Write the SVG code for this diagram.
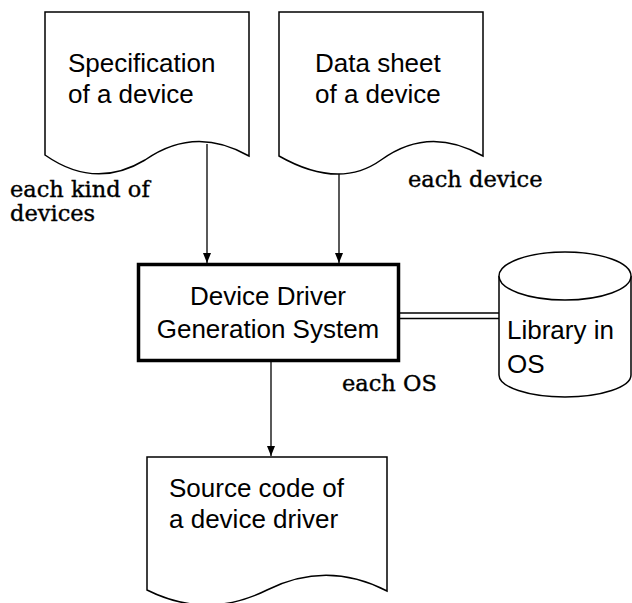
<svg xmlns="http://www.w3.org/2000/svg" width="632" height="603" viewBox="0 0 632 603">
<style>
.shape{fill:#fff;stroke:#000;stroke-width:1.5}
.sans{font-family:"Liberation Sans",Arial,sans-serif;font-size:26px;fill:#000}
.serif{font-family:"DejaVu Serif","Liberation Serif",serif;font-size:22.5px;fill:#000;stroke:#000;stroke-width:0.4}
.line{stroke:#000;stroke-width:1.3;fill:none}
</style>
<defs>
<marker id="ah" viewBox="0 0 10 10" refX="10" refY="5" markerWidth="10" markerHeight="10" markerUnits="userSpaceOnUse" orient="auto">
<path d="M0,1 L10,5 L0,9 Z" fill="#000"/>
</marker>
</defs>
<rect width="632" height="603" fill="#fff"/>
<g id="connectors">
<line class="line" x1="207" y1="144" x2="207" y2="263" marker-end="url(#ah)"/>
<line class="line" x1="339" y1="173" x2="339" y2="263" marker-end="url(#ah)"/>
<line class="line" x1="271" y1="362" x2="271" y2="456" marker-end="url(#ah)"/>
<line class="line" x1="400" y1="313" x2="499" y2="313"/>
<line class="line" x1="400" y1="318.5" x2="499" y2="318.5"/>
</g>
<g id="spec">
<path class="shape" d="M45,155 L45,12 L249,12 L249,156 Q195,125 145,160 Q95,190 45,155 Z"/>
<text class="sans" x="68" y="72">Specification</text>
<text class="sans" x="68" y="103">of a device</text>
</g>
<g id="datasheet">
<path class="shape" d="M279,156 L279,12 L483,12 L483,156 Q429,125 381,160 Q339,190 279,156 Z"/>
<text class="sans" x="315" y="72">Data sheet</text>
<text class="sans" x="315" y="103">of a device</text>
</g>
<g id="generator">
<rect x="138.5" y="264.5" width="260" height="96" fill="#fff" stroke="#000" stroke-width="3.5"/>
<text class="sans" x="268" y="305" text-anchor="middle">Device Driver</text>
<text class="sans" x="268" y="338" text-anchor="middle">Generation System</text>
</g>
<g id="library">
<path class="shape" d="M499,276 L499,375 A66,22 0 0 0 631,375 L631,276"/>
<ellipse class="shape" cx="565" cy="276" rx="66" ry="24"/>
<text class="sans" x="507" y="339">Library in</text>
<text class="sans" x="507" y="373">OS</text>
</g>
<g id="source">
<path class="shape" d="M147,590 L147,457 L387,457 L387,591 Q327,560 267,590 Q207,620 147,590 Z"/>
<text class="sans" x="169" y="497">Source code of</text>
<text class="sans" x="169" y="528">a device driver</text>
</g>
<g id="labels">
<text class="serif" x="10" y="197">each kind of</text>
<text class="serif" x="10" y="221">devices</text>
<text class="serif" x="408" y="187">each device</text>
<text class="serif" x="342" y="391">each OS</text>
</g>
</svg>
